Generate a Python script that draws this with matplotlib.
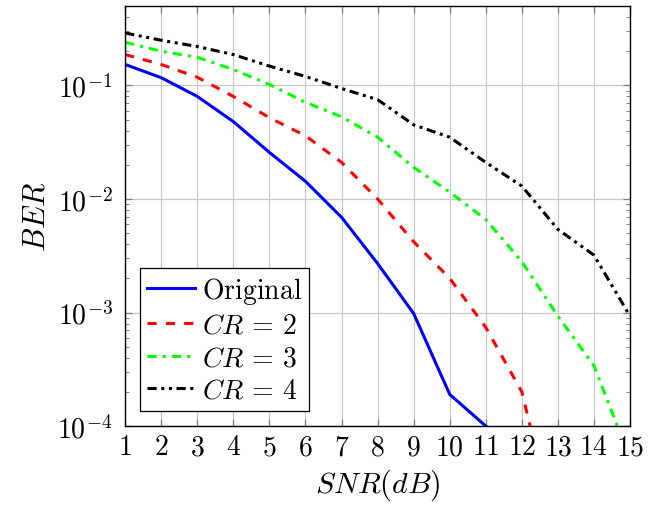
import numpy as np
import matplotlib
matplotlib.use('Agg')
import matplotlib.pyplot as plt
from matplotlib.ticker import FixedLocator, LogLocator, FuncFormatter

plt.rcParams['mathtext.fontset'] = 'cm'
plt.rcParams['font.family'] = 'DejaVu Serif'

# values
snr = [1, 2, 3, 4, 5, 6, 7, 8, 9, 10, 11, 12, 13, 14, 15]
ber_original = [0.153, 0.117, 0.080, 0.048, 0.0257, 0.0143, 0.0069, 0.0027, 0.00098, 0.00019, 0.0001]
ber_cr2 = [0.187, 0.153, 0.118, 0.080, 0.052, 0.036, 0.021, 0.0100, 0.0042, 0.0020, 0.00074, 0.00020, 0.0001]
snr_cr2_end = 12.23
ber_cr3 = [0.24, 0.20, 0.177, 0.138, 0.102, 0.071, 0.053, 0.035, 0.019, 0.0115, 0.0066, 0.0028, 0.00093, 0.00034, 0.0001]
snr_cr3_end = 14.65
ber_cr4 = [0.29, 0.25, 0.22, 0.187, 0.148, 0.12, 0.094, 0.075, 0.045, 0.035, 0.021, 0.013, 0.0054, 0.0032, 0.00093]

x_orig = snr[:len(ber_original)]
x_cr2 = snr[:len(ber_cr2) - 1] + [snr_cr2_end]
x_cr3 = snr[:len(ber_cr3) - 1] + [snr_cr3_end]

fig = plt.figure(figsize=(6.59, 5.06), dpi=100)
ax = fig.add_axes([0.19, 0.156, 0.766, 0.83])

lw = 2.2
ax.plot(x_orig, ber_original, color='blue', lw=lw, label=r'$\mathrm{Original}$')
ax.plot(x_cr2, ber_cr2, color='red', lw=lw, dashes=(3, 3), label=r'$CR\,=\,2$')
ax.plot(x_cr3, ber_cr3, color='#00ff00', lw=lw, dashes=(3, 2, 1, 2), label=r'$CR\,=\,3$')
ax.plot(snr, ber_cr4, color='black', lw=lw, dashes=(3, 1.5, 1, 1.5, 1, 1.5), label=r'$CR\,=\,4$')

ax.set_yscale('log')
ax.set_xlim(1, 15)
ax.set_ylim(1e-4, 0.5)

ax.xaxis.set_major_locator(FixedLocator(snr))
ax.xaxis.set_major_formatter(FuncFormatter(lambda v, p: r'$%d$' % round(v)))
ax.yaxis.set_major_locator(LogLocator(base=10, numticks=10))
ax.yaxis.set_minor_locator(LogLocator(base=10, subs=np.arange(2, 10), numticks=10))
ax.yaxis.set_major_formatter(FuncFormatter(lambda v, p: r'$10^{%d}$' % round(np.log10(v))))
ax.yaxis.set_minor_formatter(FuncFormatter(lambda v, p: ''))

ax.grid(True, which='major', color='#c8c8c8', lw=0.9)
ax.set_axisbelow(True)
ax.tick_params(which='both', direction='in', top=True, right=True, color='#808080',
               labelsize=20, pad=5)
ax.tick_params(axis='y', which='major', pad=9)
ax.tick_params(which='major', length=5, width=0.9)
ax.tick_params(which='minor', length=3, width=0.7)
for s in ax.spines.values():
    s.set_linewidth(1.0)

ax.set_xlabel(r'$SNR(dB)$', fontsize=21.5, labelpad=5)
ax.set_ylabel(r'$BER$', fontsize=22, labelpad=4)

leg = ax.legend(loc='lower left', fontsize=20, frameon=True, fancybox=False,
                edgecolor='black', framealpha=1, handlelength=1.7, borderpad=0.25,
                labelspacing=0.2, handletextpad=0.25, borderaxespad=0.55)
leg.get_frame().set_linewidth(0.9)

fig.savefig('out.png', dpi=100)
